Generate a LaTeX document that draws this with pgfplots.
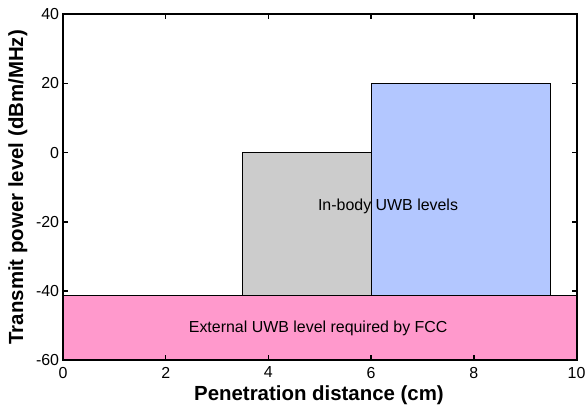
\documentclass[border=0pt]{standalone}
\usepackage{fontspec}
\setmainfont{Liberation Sans}
\usepackage{pgfplots}
\pgfplotsset{compat=1.18}
\definecolor{fccpink}{RGB}{255,153,204}
\definecolor{inbgray}{RGB}{204,204,204}
\definecolor{inbblue}{RGB}{179,199,255}
\begin{document}
\begin{tikzpicture}
\begin{axis}[
  scale only axis,
  width=513.5bp, height=346.5bp,
  xmin=0, xmax=10, ymin=-60, ymax=40,
  xtick={0,2,4,6,8,10},
  ytick={-60,-40,-20,0,20,40},
  tick align=inside,
  major tick length=5bp,
  axis line style={line width=2bp},
  every tick/.style={line width=1.5bp, black},
  axis on top,
  /pgf/number format/assume math mode=true,
  tick label style={font=\fontsize{16}{18}\selectfont},
  xticklabel style={yshift=-3bp},
  yticklabel style={inner sep=0pt, xshift=-3.7bp},
  xlabel={Penetration distance (cm)},
  ylabel={Transmit power level (dBm/MHz)},
  label style={font=\fontsize{20.5}{23}\selectfont\bfseries, inner sep=0pt},
  x label style={at={(axis description cs:0.4985,-0.1169)}, anchor=base},
  y label style={at={(axis description cs:-0.0779,0.5)}, anchor=base},
]
\addplot [fill=fccpink, draw=black, line width=1bp] coordinates {(0,-60) (0,-41.3) (10,-41.3) (10,-60)} -- cycle;
\addplot [fill=inbgray, draw=black, line width=1bp] coordinates {(3.5,-41.3) (3.5,0) (6,0) (6,-41.3)} -- cycle;
\addplot [fill=inbblue, draw=black, line width=1bp] coordinates {(6,-41.3) (6,20) (9.5,20) (9.5,-41.3)} -- cycle;
\node[font=\fontsize{16}{18}\selectfont, inner sep=0pt] at (axis cs:6.33,-15.6) {In-body UWB levels};
\node[font=\fontsize{16}{18}\selectfont, inner sep=0pt] at (axis cs:4.97,-50.6) {External UWB level required by FCC};
\end{axis}
\pgfresetboundingbox
\path[use as bounding box] ([shift={(-63bp,-44.5bp)}]current axis.south west) rectangle ([shift={(10.5bp,14bp)}]current axis.north east);
\end{tikzpicture}
\end{document}
